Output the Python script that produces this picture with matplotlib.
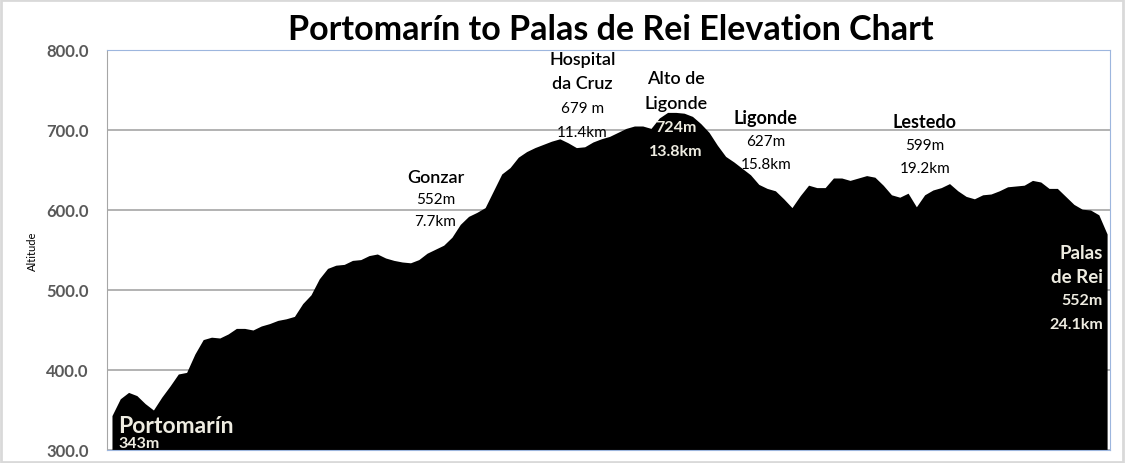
import numpy as np
import matplotlib.pyplot as plt
from matplotlib.patches import Rectangle

# elevation sampled every 0.2 km (Portomarín -> Palas de Rei)
step_km = 0.2
altitude = [343, 364, 372, 368, 358, 350, 366, 380, 395, 397,
            420, 438, 441, 440, 445, 452, 452, 450, 455, 458,
            462, 464, 467, 483, 494, 514, 527, 531, 532, 537,
            538, 543, 545, 540, 537, 535, 534, 538, 546, 551,
            556, 566, 582, 592, 597, 603, 624, 645, 653, 666,
            673, 678, 682, 686, 689, 684, 678, 679, 685, 689,
            692, 697, 702, 705, 705, 702, 715, 722, 722, 721,
            717, 708, 697, 681, 667, 660, 652, 644, 632, 627,
            624, 614, 603, 618, 631, 628, 628, 640, 640, 637,
            640, 643, 641, 631, 619, 616, 621, 604, 619, 625,
            628, 633, 624, 617, 614, 619, 620, 624, 629, 630,
            631, 637, 635, 627, 627, 617, 607, 601, 600, 594,
            570]
dist = np.arange(len(altitude)) * step_km

yticks = [300, 400, 500, 600, 700, 800]

title = "Portomarín to Palas de Rei Elevation Chart"
cream = "#eeece1"

fig = plt.figure(figsize=(11.25, 4.64), dpi=100)
plt.rcParams['font.family'] = ['Lato', 'DejaVu Sans']
ax = fig.add_axes([107/1125, 13/464, 1003/1125, 400/464])

ax.fill_between(dist, altitude, 300, color='black', linewidth=0, zorder=2)
ax.set_ylim(300, 800)
ax.set_xlim(-0.12, dist[-1] + 0.07)
ax.set_yticks(yticks)
ax.set_yticklabels([f"{v:.1f}" for v in yticks], fontsize=12,
                   fontweight='bold', color='#595959')
ax.set_xticks([])
ax.tick_params(axis='y', length=0, pad=13)
ax.grid(axis='y', color='#a6a6a6', linewidth=1.2, zorder=1)
ax.spines['left'].set_color('#a6a6a6')
for s in ['top', 'bottom', 'right']:
    ax.spines[s].set_color('#9db6de')
ax.set_ylabel("Altitude", fontsize=8, labelpad=6)

fig.text(0.543, 0.935, title, ha='center', va='center', fontsize=24.5,
         fontweight='bold')

def label(x, y, lines, color='black', ha='center', sizes=None, weights=None, dy=24):
    for k, t in enumerate(lines):
        ax.annotate(t, (x, y), xytext=(0, -k * dy), textcoords='offset pixels',
                    ha=ha, va='center', color=color, fontsize=sizes[k],
                    fontweight=weights[k], zorder=5)

label(0.15, 331, ["Portomarín"], color=cream, ha='left', sizes=[16.5], weights=['bold'])
label(0.15, 309, ["343m"], color=cream, ha='left', sizes=[11.5], weights=['bold'])
label(7.8, 641, ["Gonzar", "552m", "7.7km"], sizes=[13, 11, 11],
      weights=['semibold', 'normal', 'normal'], dy=22)
label(11.35, 789, ["Hospital", "da Cruz", "679 m", "11.4km"], sizes=[13, 13, 11, 11],
      weights=['semibold', 'semibold', 'normal', 'normal'], dy=24.5)
label(13.6, 765, ["Alto de", "Ligonde"], sizes=[13, 13],
      weights=['semibold', 'semibold'], dy=25)
label(13.6, 704, ["724m", "13.8km"], color=cream, sizes=[11.5, 11.5],
      weights=['bold', 'bold'], dy=24)
label(15.77, 716, ["Ligonde"], sizes=[13], weights=['bold'])
label(15.77, 686, ["627m", "15.8km"], sizes=[11, 11], weights=['normal', 'normal'], dy=23)
label(19.6, 710, ["Lestedo"], sizes=[13], weights=['bold'])
label(19.6, 681, ["599m", "19.2km"], sizes=[11, 11], weights=['normal', 'normal'], dy=23)
label(23.9, 547, ["Palas", "de Rei", "552m", "24.1km"], color=cream, ha='right',
      sizes=[13.5, 13.5, 11.5, 11.5], weights=['bold', 'bold', 'bold', 'bold'], dy=24)

# outer chart frame
fig.patches.append(Rectangle((0.001, 0.002), 0.997, 0.995, transform=fig.transFigure,
                             fill=False, edgecolor='#d9d9d9', linewidth=2))

fig.savefig("out.png", dpi=100)
